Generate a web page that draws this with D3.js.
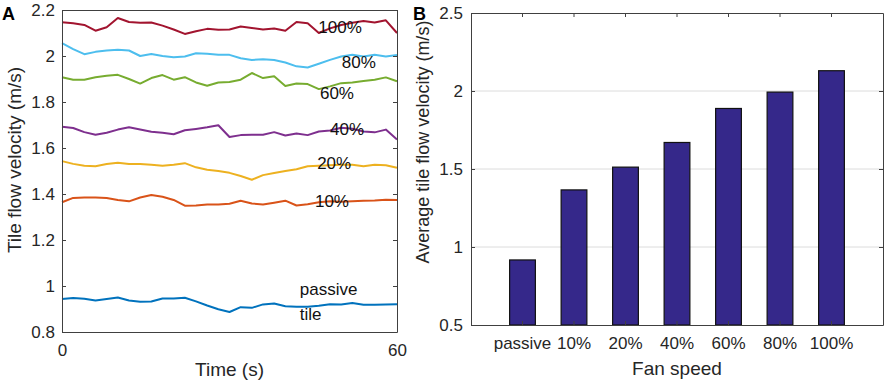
<!DOCTYPE html>
<html lang="en">
	<head>
		<meta charset="utf-8">
		<title>Tile flow velocity</title>
		<script type="text/javascript" src="https://cdn.jsdelivr.net/npm/d3@7"></script>
		<style type="text/css">
			body { margin: 0; background: white; }
			text {
				font-family: "Liberation Sans", Arial, sans-serif;
				fill: #262626;
			}
		</style>
	</head>
	<body>
		<script type="text/javascript">
			var w = 886;
			var h = 387;

			// panel A data (time in s, velocity in m/s)
			var time = [0, 2, 4, 6, 8, 10, 12, 14, 16, 18, 20, 22, 24, 26, 28, 30,
				32, 34, 36, 38, 40, 42, 44, 46, 48, 50, 52, 54, 56, 58, 60];
			var passive = [0.943, 0.948, 0.945, 0.937, 0.943, 0.950, 0.937, 0.932, 0.933, 0.946, 0.946, 0.949, 0.933, 0.915, 0.899, 0.887,
				0.908, 0.905, 0.920, 0.924, 0.912, 0.910, 0.910, 0.914, 0.921, 0.920, 0.926, 0.918, 0.918, 0.920, 0.921];
			var fan10 = [1.364, 1.383, 1.385, 1.385, 1.383, 1.374, 1.368, 1.385, 1.396, 1.388, 1.374, 1.349, 1.350, 1.354, 1.354, 1.358,
				1.371, 1.359, 1.354, 1.362, 1.371, 1.350, 1.355, 1.364, 1.368, 1.366, 1.368, 1.371, 1.372, 1.375, 1.374];
			var fan20 = [1.543, 1.531, 1.523, 1.521, 1.530, 1.536, 1.530, 1.530, 1.527, 1.523, 1.527, 1.534, 1.516, 1.505, 1.500, 1.492,
				1.478, 1.462, 1.482, 1.491, 1.500, 1.508, 1.521, 1.523, 1.525, 1.527, 1.527, 1.521, 1.527, 1.525, 1.514];
			var fan40 = [1.692, 1.687, 1.669, 1.658, 1.666, 1.680, 1.690, 1.680, 1.671, 1.666, 1.660, 1.677, 1.683, 1.690, 1.699, 1.648,
				1.656, 1.658, 1.658, 1.669, 1.654, 1.663, 1.656, 1.672, 1.676, 1.688, 1.684, 1.672, 1.668, 1.680, 1.637];
			var fan60 = [1.908, 1.897, 1.897, 1.908, 1.914, 1.918, 1.900, 1.880, 1.904, 1.917, 1.897, 1.908, 1.885, 1.871, 1.885, 1.887,
				1.897, 1.926, 1.904, 1.912, 1.870, 1.880, 1.878, 1.856, 1.868, 1.882, 1.885, 1.891, 1.897, 1.907, 1.890];
			var fan80 = [2.056, 2.030, 2.008, 2.018, 2.024, 2.027, 2.024, 2.000, 2.009, 2.000, 1.995, 1.998, 2.012, 2.010, 2.005, 2.005,
				1.990, 1.983, 1.986, 1.983, 1.972, 1.955, 1.950, 1.966, 1.983, 1.998, 2.005, 1.998, 2.005, 1.998, 2.004];
			var fan100 = [2.147, 2.142, 2.135, 2.110, 2.125, 2.165, 2.148, 2.145, 2.146, 2.132, 2.115, 2.096, 2.108, 2.118, 2.114, 2.115,
				2.128, 2.122, 2.115, 2.120, 2.110, 2.148, 2.142, 2.100, 2.120, 2.135, 2.145, 2.152, 2.146, 2.155, 2.100];

			var seriesNames = ["passive", "10%", "20%", "40%", "60%", "80%", "100%"];
			var seriesValues = [passive, fan10, fan20, fan40, fan60, fan80, fan100];
			var seriesColors = ["#0072BD", "#D95319", "#EDB120", "#7E2F8E", "#77AC30", "#4DBEEE", "#A2142F"];

			// in-plot labels of panel A: text, time, velocity of baseline
			var labelText = ["100%", "80%", "60%", "40%", "20%", "10%", "passive", "tile"];
			var labelT = [45.9, 50.1, 46.2, 48, 45.7, 45.3, 42.6, 42.6];
			var labelV = [2.1, 1.946, 1.811, 1.656, 1.507, 1.344, 0.96, 0.851];

			var yTicksA = [0.8, 1, 1.2, 1.4, 1.6, 1.8, 2, 2.2];
			var xTicksA = [0, 60];

			// panel B data
			var fanSpeed = ["passive", "10%", "20%", "40%", "60%", "80%", "100%"];
			var avgVelocity = [0.917, 1.366, 1.512, 1.670, 1.888, 1.993, 2.130];
			var yTicksB = [0.5, 1, 1.5, 2, 2.5];

			var svg = d3.select("body")
						.append("svg")
						.attr("width", w)
						.attr("height", h);

			var axisColor = "#404040";
			var tickLen = 4;

			// ---------- panel A ----------
			var ax = { left: 62, right: 397, top: 10, bottom: 332 };

			var xA = d3.scaleLinear().domain([0, 60]).range([ax.left, ax.right]);
			var yA = d3.scaleLinear().domain([0.8, 2.2]).range([ax.bottom, ax.top]);

			var gA = svg.append("g");

			var line = d3.line()
				.x(function(d, i) { return xA(time[i]); })
				.y(function(d) { return yA(d); });

			gA.selectAll("path.series")
				.data(seriesValues)
				.enter()
				.append("path")
				.attr("class", "series")
				.attr("d", line)
				.attr("fill", "none")
				.attr("stroke", function(d, i) { return seriesColors[i]; })
				.attr("stroke-width", 2)
				.attr("stroke-linejoin", "round");

			gA.selectAll("text.lbl")
				.data(labelText)
				.enter()
				.append("text")
				.attr("class", "lbl")
				.attr("x", function(d, i) { return xA(labelT[i]); })
				.attr("y", function(d, i) { return yA(labelV[i]); })
				.style("font-size", "17px")
				.style("fill", "#111")
				.text(function(d) { return d; });

			// axes (box with inner ticks)
			gA.append("g")
				.attr("transform", "translate(" + ax.left + ",0)")
				.call(d3.axisLeft(yA).tickValues(yTicksA).tickSizeInner(-tickLen).tickSizeOuter(0).tickPadding(7).tickFormat(d3.format("")));
			gA.append("g")
				.attr("transform", "translate(" + ax.right + ",0)")
				.call(d3.axisRight(yA).tickValues(yTicksA).tickSizeInner(-tickLen).tickSizeOuter(0).tickFormat(""));
			gA.append("g")
				.attr("transform", "translate(0," + ax.bottom + ")")
				.call(d3.axisBottom(xA).tickValues(xTicksA).tickSizeInner(-tickLen).tickSizeOuter(0).tickPadding(12));
			gA.append("g")
				.attr("transform", "translate(0," + ax.top + ")")
				.call(d3.axisTop(xA).tickValues(xTicksA).tickSizeInner(-tickLen).tickSizeOuter(0).tickFormat(""));

			gA.append("text")
				.attr("x", (ax.left + ax.right) / 2)
				.attr("y", 376)
				.attr("text-anchor", "middle")
				.style("font-size", "19px")
				.text("Time (s)");
			gA.append("text")
				.attr("transform", "translate(21," + 160 + ") rotate(-90)")
				.attr("text-anchor", "middle")
				.style("font-size", "19px")
				.text("Tile flow velocity (m/s)");
			gA.append("text")
				.attr("x", 2)
				.attr("y", 20)
				.style("font-size", "18px")
				.style("font-weight", "bold")
				.style("fill", "#000")
				.text("A");

			// ---------- panel B ----------
			var bx = { left: 471, right: 883, top: 13, bottom: 325 };

			var xB = d3.scaleBand()
				.domain(fanSpeed)
				.range([bx.left, bx.right])
				.paddingInner(0.5)
				.paddingOuter(0.75);
			var yB = d3.scaleLinear().domain([0.5, 2.5]).range([bx.bottom, bx.top]);

			var gB = svg.append("g");

			// grid lines
			gB.selectAll("line.grid")
				.data(yTicksB.slice(1, -1))
				.enter()
				.append("line")
				.attr("class", "grid")
				.attr("x1", bx.left)
				.attr("x2", bx.right)
				.attr("y1", function(d) { return yB(d); })
				.attr("y2", function(d) { return yB(d); })
				.attr("stroke", "#dcdcdc")
				.attr("stroke-width", 1);

			gB.selectAll("rect")
				.data(avgVelocity)
				.enter()
				.append("rect")
				.attr("x", function(d, i) { return xB(fanSpeed[i]); })
				.attr("y", function(d) { return yB(d); })
				.attr("width", xB.bandwidth())
				.attr("height", function(d) { return yB(0.5) - yB(d); })
				.attr("fill", "#35288A")
				.attr("stroke", "#111")
				.attr("stroke-width", 1.2);

			gB.append("g")
				.attr("transform", "translate(" + bx.left + ",0)")
				.call(d3.axisLeft(yB).tickValues(yTicksB).tickSizeInner(-tickLen).tickSizeOuter(0).tickPadding(8).tickFormat(d3.format("")));
			gB.append("g")
				.attr("transform", "translate(" + bx.right + ",0)")
				.call(d3.axisRight(yB).tickValues(yTicksB).tickSizeInner(-tickLen).tickSizeOuter(0).tickFormat(""));
			gB.append("g")
				.attr("transform", "translate(0," + bx.bottom + ")")
				.call(d3.axisBottom(xB).tickSizeInner(-tickLen).tickSizeOuter(0).tickPadding(12));
			gB.append("g")
				.attr("transform", "translate(0," + bx.top + ")")
				.call(d3.axisTop(xB).tickSizeInner(-tickLen).tickSizeOuter(0).tickFormat(""));

			gB.append("text")
				.attr("x", (bx.left + bx.right) / 2)
				.attr("y", 375)
				.attr("text-anchor", "middle")
				.style("font-size", "19px")
				.text("Fan speed");
			gB.append("text")
				.attr("transform", "translate(429," + 142 + ") rotate(-90)")
				.attr("text-anchor", "middle")
				.style("font-size", "18px")
				.text("Average tile flow velocity (m/s)");
			gB.append("text")
				.attr("x", 413)
				.attr("y", 20)
				.style("font-size", "18px")
				.style("font-weight", "bold")
				.style("fill", "#000")
				.text("B");

			// axis styling
			svg.selectAll(".domain").attr("stroke", axisColor).attr("stroke-width", 1);
			svg.selectAll(".tick line").attr("stroke", axisColor);
			svg.selectAll(".tick text")
				.style("font-size", "17px")
				.style("font-family", "'Liberation Sans', Arial, sans-serif")
				.attr("fill", "#262626");
		</script>
	</body>
</html>
